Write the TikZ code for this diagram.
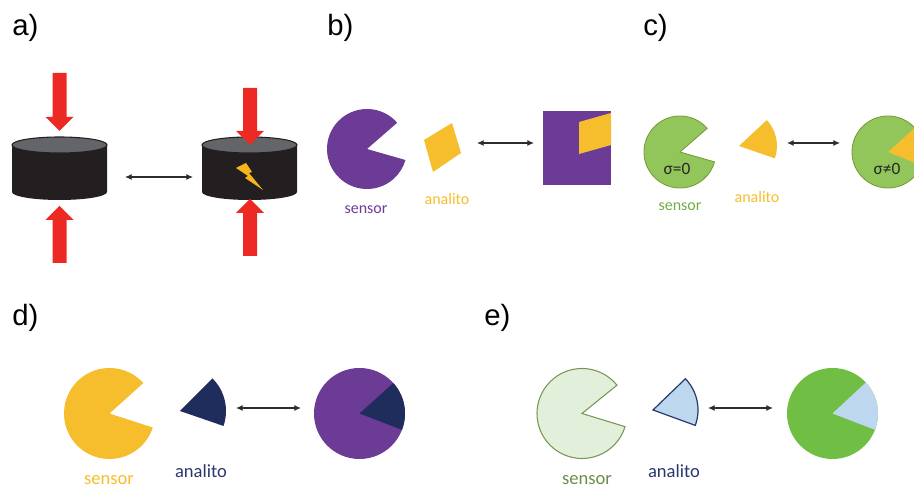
\documentclass[tikz,border=0pt]{standalone}
\usepackage{fontspec}
\setmainfont{Liberation Sans}
\newfontfamily\capfont{Carlito}
\usetikzlibrary{arrows.meta}

\definecolor{pressred}{RGB}{237,41,36}
\definecolor{discbody}{RGB}{35,31,32}
\definecolor{disctop}{RGB}{100,101,105}
\definecolor{boltyellow}{RGB}{246,181,26}
\definecolor{violet}{RGB}{107,59,150}
\definecolor{gold}{RGB}{246,190,44}
\definecolor{leaf}{RGB}{146,198,90}
\definecolor{leafline}{RGB}{110,154,60}
\definecolor{leaftext}{RGB}{112,173,71}
\definecolor{navy}{RGB}{31,45,92}
\definecolor{navytext}{RGB}{40,55,110}
\definecolor{palegreen}{RGB}{226,239,218}
\definecolor{oliveline}{RGB}{122,150,85}
\definecolor{olivetext}{RGB}{105,140,75}
\definecolor{paleblue}{RGB}{189,215,238}
\definecolor{brightgreen}{RGB}{112,191,68}
\definecolor{linkgray}{RGB}{45,45,45}

% block arrow: #1 centre x, #2 tail y, #3 tip y, #4 signed head length
\newcommand\pressarrow[4]{%
  \fill[pressred] (#1-7,#2) -- (#1+7,#2) -- (#1+7,#3+#4) -- (#1+14,#3+#4)
    -- (#1,#3) -- (#1-14,#3+#4) -- (#1-7,#3+#4) -- cycle;}

\begin{document}
\begin{tikzpicture}[x=0.75pt,y=0.75pt,
  panel/.style={font=\fontsize{22}{26}\selectfont, anchor=base west, inner sep=0pt},
  caption/.style={font=\capfont\fontsize{12}{14}\selectfont, anchor=base, inner sep=0pt},
  bigcaption/.style={font=\capfont\fontsize{13.9}{16}\selectfont, anchor=base, inner sep=0pt},
  sigma/.style={font=\capfont\fontsize{13}{15}\selectfont, anchor=base, inner sep=0pt, text=black!85},
  link/.style={draw=linkgray, line width=0.8pt,
    {Latex[length=5pt,width=4.5pt]}-{Latex[length=5pt,width=4.5pt]}},
]
\useasboundingbox (0,0) rectangle (914,488);
\clip (0,0) rectangle (914,488);

% ---------- panel labels ----------
\node[panel] (la) at (12,452) {a)};
\node[panel] (lb) at (327,452) {b)};
\node[panel] (lc) at (643,452) {c)};
\node[panel] (ld) at (12,162) {d)};
\node[panel] (le) at (484,162) {e)};

% ---------- a) piezoelectric discs under load ----------
\coordinate (discA) at (59.5,343);
\coordinate (discB) at (249.5,343);
\foreach \c in {discA,discB}{
  \fill[discbody] (\c) ++(-47.5,0) -- ++(0,-47)
    arc[start angle=180, end angle=360, x radius=47.5, y radius=8] -- ++(0,47) -- cycle;
  \filldraw[fill=disctop, draw=discbody, line width=0.8pt] (\c) ellipse[x radius=47.5, y radius=8];
}
\pressarrow{59.5}{415}{357}{14}
\pressarrow{59.5}{225}{282}{-14}
\pressarrow{250}{400}{343}{14}
\pressarrow{250}{232}{289}{-14}
% spark on the loaded disc
\fill[boltyellow] (236,320) -- (246,325) -- (252,316) -- (249,315) -- (263,298)
  -- (245,310) -- (248,312) -- cycle;
\coordinate (a1) at (125,311);
\coordinate (a2) at (193,311);
\draw[link] (a1) -- (a2);

% ---------- b) lock and key ----------
\coordinate (bsens) at (367,339);
\fill[violet] (bsens) -- ++(41:40) arc[start angle=41, end angle=344, radius=40] -- cycle;
\fill[gold] (452,365) -- (461,335) -- (433,316) -- (424,348) -- cycle;
\node[caption, text=violet] (bs) at (366,274) {sensor};
\node[caption, text=gold] (ba) at (447,283) {analito};
\coordinate (b1) at (477,345);
\coordinate (b2) at (534,345);
\draw[link] (b1) -- (b2);
\fill[violet] (543,303) rectangle (611,377);
\fill[gold] (579,366) -- (611,375) -- (611,343) -- (579,334) -- cycle;

% ---------- c) conductance change ----------
\coordinate (csens) at (680,336);
\filldraw[fill=leaf, draw=leafline, line width=0.6pt]
  (csens) -- ++(41:36) arc[start angle=41, end angle=344, radius=36] -- cycle;
\node[sigma] (cs0) at (677,313) {σ=0};
\coordinate (cwedge) at (739,342);
\fill[gold] (cwedge) -- ++(-19:38) arc[start angle=-19, end angle=43, radius=38] -- cycle;
\node[caption, text=leaftext] (cs) at (680,277) {sensor};
\node[caption, text=gold] (ca) at (757,285) {analito};
\coordinate (c1) at (787,345);
\coordinate (c2) at (840,345);
\draw[link] (c1) -- (c2);
\coordinate (cbound) at (888,336);
\filldraw[fill=leaf, draw=leafline, line width=0.6pt] (cbound) circle[radius=36];
\fill[gold] (cbound) -- ++(-22:36) arc[start angle=-22, end angle=42, radius=36] -- cycle;
\node[sigma] (cs1) at (887,313) {σ≠0};

% ---------- d) colour change ----------
\coordinate (dsens) at (109.5,74.5);
\fill[gold] (dsens) -- ++(42:45.5) arc[start angle=42, end angle=342, radius=45.5] -- cycle;
\coordinate (dwedge) at (180,77);
\fill[navy] (dwedge) -- ++(-19:46) arc[start angle=-19, end angle=45, radius=46] -- cycle;
\node[bigcaption, text=gold] (ds) at (109,3) {sensor};
\node[bigcaption, text=navytext] (da) at (201,10.5) {analito};
\coordinate (d1) at (236,80);
\coordinate (d2) at (301,80);
\draw[link] (d1) -- (d2);
\coordinate (dbound) at (359.5,74.5);
\fill[violet] (dbound) circle[radius=45.5];
\fill[navy] (dbound) -- ++(-21:45.5) arc[start angle=-21, end angle=42, radius=45.5] -- cycle;

% ---------- e) fluorescence change ----------
\coordinate (esens) at (582,74.5);
\filldraw[fill=palegreen, draw=oliveline, line width=0.8pt]
  (esens) -- ++(39:45) arc[start angle=39, end angle=343, radius=45] -- cycle;
\coordinate (ewedge) at (653,78);
\filldraw[fill=paleblue, draw=navytext, line width=0.9pt]
  (ewedge) -- ++(-20:45) arc[start angle=-20, end angle=44, radius=45] -- cycle;
\node[bigcaption, text=olivetext] (es) at (587,3) {sensor};
\node[bigcaption, text=navytext] (ea) at (674,10.5) {analito};
\coordinate (e1) at (708,80);
\coordinate (e2) at (773,80);
\draw[link] (e1) -- (e2);
\coordinate (ebound) at (832.5,74.5);
\fill[brightgreen] (ebound) circle[radius=45.5];
\fill[paleblue] (ebound) -- ++(-21:45.5) arc[start angle=-21, end angle=43, radius=45.5] -- cycle;

\end{tikzpicture}
\end{document}
